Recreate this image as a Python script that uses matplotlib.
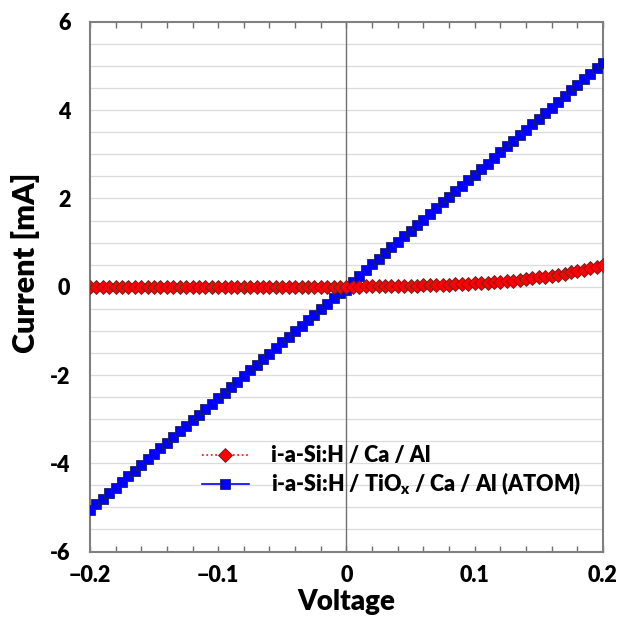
import matplotlib
matplotlib.use("Agg")
import matplotlib.pyplot as plt
from matplotlib.ticker import MultipleLocator, FixedLocator

plt.rcParams['font.family'] = ['Lato', 'DejaVu Sans']
plt.rcParams['font.weight'] = 'heavy'
plt.rcParams['mathtext.fontset'] = 'custom'
plt.rcParams['mathtext.rm'] = 'Lato:heavy'
plt.rcParams['mathtext.it'] = 'Lato:heavy'
plt.rcParams['mathtext.default'] = 'rm'

voltage = [-0.200, -0.195, -0.190, -0.185, -0.180, -0.175, -0.170, -0.165, -0.160, -0.155,
           -0.150, -0.145, -0.140, -0.135, -0.130, -0.125, -0.120, -0.115, -0.110, -0.105,
           -0.100, -0.095, -0.090, -0.085, -0.080, -0.075, -0.070, -0.065, -0.060, -0.055,
           -0.050, -0.045, -0.040, -0.035, -0.030, -0.025, -0.020, -0.015, -0.010, -0.005,
           0.000,
           0.005, 0.010, 0.015, 0.020, 0.025, 0.030, 0.035, 0.040, 0.045, 0.050,
           0.055, 0.060, 0.065, 0.070, 0.075, 0.080, 0.085, 0.090, 0.095, 0.100,
           0.105, 0.110, 0.115, 0.120, 0.125, 0.130, 0.135, 0.140, 0.145, 0.150,
           0.155, 0.160, 0.165, 0.170, 0.175, 0.180, 0.185, 0.190, 0.195, 0.200]

current_ca = [-0.01, -0.01, -0.01, -0.01, -0.01, -0.01, -0.01, -0.01, -0.01, -0.01,
              -0.01, -0.01, -0.01, -0.01, -0.01, -0.01, -0.01, -0.01, -0.01, -0.01,
              -0.01, -0.01, -0.01, -0.01, -0.01, -0.01, -0.01, -0.01, -0.01, -0.01,
              -0.01, -0.01, -0.01, -0.01, -0.01, -0.01, -0.01, -0.01, -0.01, -0.01,
              0.00,
              0.00, 0.00, 0.01, 0.01, 0.01, 0.01, 0.01, 0.015, 0.015, 0.02,
              0.025, 0.03, 0.035, 0.04, 0.045, 0.05, 0.055, 0.06, 0.067, 0.075,
              0.085, 0.095, 0.105, 0.115, 0.127, 0.14, 0.157, 0.175, 0.192, 0.21,
              0.23, 0.25, 0.275, 0.30, 0.327, 0.355, 0.387, 0.42, 0.455, 0.49]

current_tiox = [-5.05, -4.92, -4.80, -4.67, -4.55, -4.42, -4.29, -4.17, -4.04, -3.91,
                -3.79, -3.66, -3.54, -3.41, -3.28, -3.16, -3.03, -2.90, -2.78, -2.65,
                -2.53, -2.40, -2.27, -2.15, -2.02, -1.89, -1.77, -1.64, -1.52, -1.39,
                -1.26, -1.14, -1.01, -0.88, -0.76, -0.63, -0.51, -0.38, -0.25, -0.15,
                -0.08,
                0.10, 0.25, 0.38, 0.51, 0.64, 0.76, 0.89, 1.02, 1.14, 1.27,
                1.40, 1.52, 1.65, 1.78, 1.91, 2.03, 2.16, 2.29, 2.41, 2.54,
                2.67, 2.79, 2.92, 3.05, 3.18, 3.30, 3.43, 3.56, 3.68, 3.81,
                3.94, 4.06, 4.19, 4.32, 4.45, 4.57, 4.70, 4.83, 4.95, 5.08]

label_ca = "i-a-Si:H / Ca / Al"
label_tiox = "i-a-Si:H / TiO$_x$ / Ca / Al (ATOM)"

x_ticks = [-0.2, -0.1, 0.0, 0.1, 0.2]
x_tick_labels = ["\u22120.2", "\u22120.1", "0", "0.1", "0.2"]
y_ticks = [-6, -4, -2, 0, 2, 4, 6]
y_tick_labels = ["-6", "-4", "-2", "0", "2", "4", "6"]

fig = plt.figure(figsize=(6.2, 6.19), dpi=100)
ax = fig.add_axes([0.145, 0.109, 0.8276, 0.8555])

for yv in [i * 0.5 for i in range(-11, 12)]:
    ax.axhline(yv, color='#dcdcdc', lw=0.9, zorder=0)
ax.axvline(0, color='#707070', lw=1.0, zorder=1)

ax.plot(voltage, current_tiox, color='blue', lw=1.2, ls='-', marker='s', ms=6.8,
        mfc='blue', mec='#202060', mew=0.6, label=label_tiox, zorder=3)
ax.plot(voltage, current_ca, color='red', lw=1.2, ls=':', marker='D', ms=6.8,
        mfc='red', mec='#602020', mew=0.6, label=label_ca, zorder=4)

ax.set_xlim(-0.2, 0.2)
ax.set_ylim(-6, 6)
ax.xaxis.set_major_locator(FixedLocator(x_ticks))
ax.set_xticklabels(x_tick_labels)
ax.xaxis.set_minor_locator(MultipleLocator(0.02))
ax.yaxis.set_major_locator(FixedLocator(y_ticks))
ax.set_yticklabels(y_tick_labels)
ax.tick_params(axis='x', which='both', direction='in', top=True, bottom=True,
               length=4, width=1, color='#707070', labelsize=15.5, pad=10)
ax.tick_params(axis='y', which='both', length=0, labelsize=15.5, pad=14)

for s in ax.spines.values():
    s.set_color('#808080')
    s.set_linewidth(1.5)

ax.set_xlabel("Voltage", fontsize=20, fontweight='heavy', labelpad=2)
ax.set_ylabel("Current [mA]", fontsize=22, fontweight='heavy')
ax.yaxis.set_label_coords(-0.097, 0.545)

handles, labels = ax.get_legend_handles_labels()
ax.legend(handles[::-1], labels[::-1], loc='lower left', bbox_to_anchor=(0.18, 0.066),
          frameon=False, handlelength=2.2, handletextpad=1.0,
          labelspacing=0.2, prop={'weight': 'heavy', 'size': 15.5})

fig.savefig("out.png", dpi=100)
